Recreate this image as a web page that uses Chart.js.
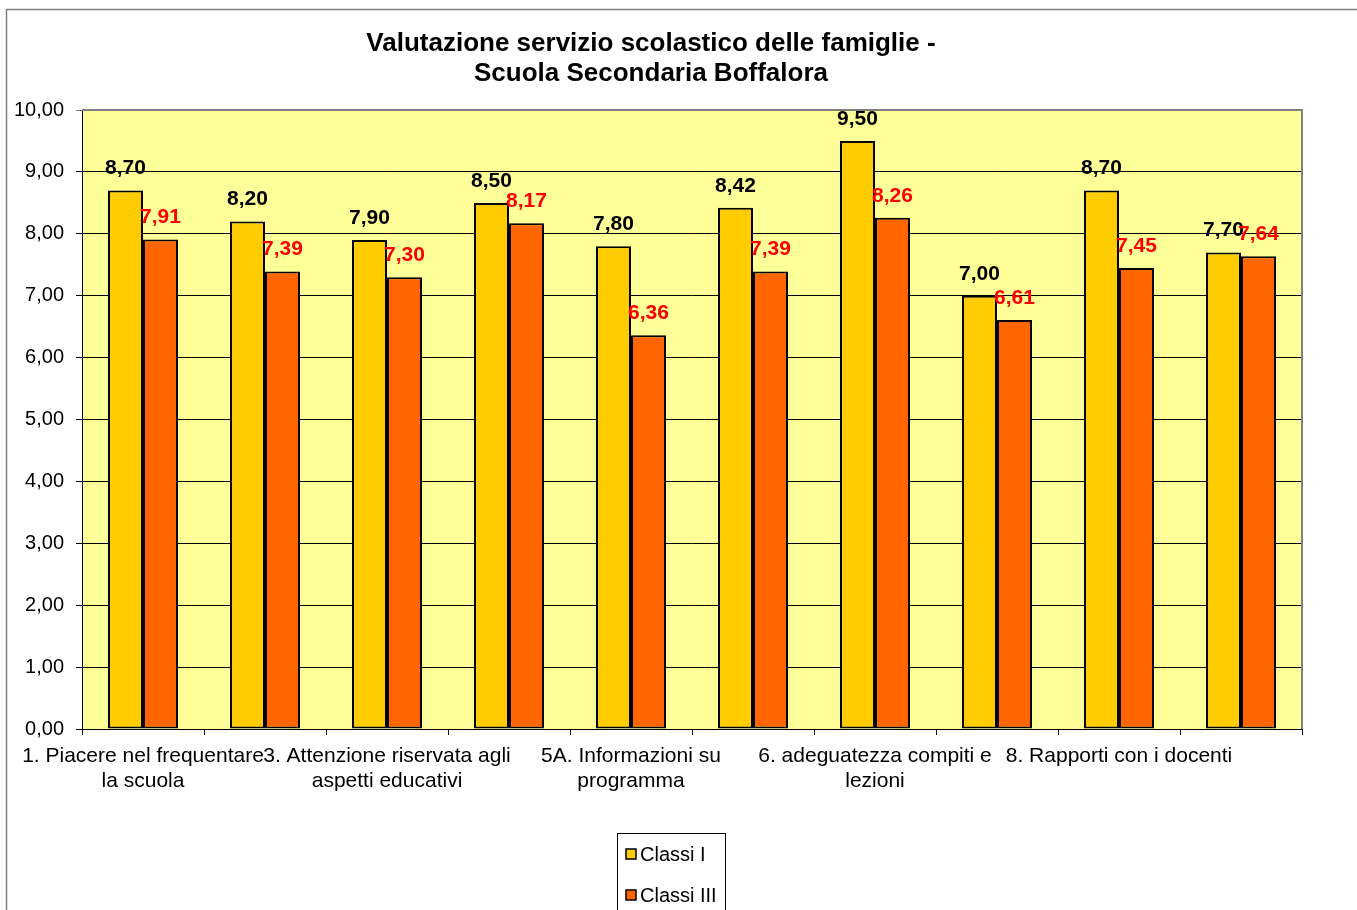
<!DOCTYPE html>
<html>
<head>
<meta charset="utf-8">
<script src="https://cdn.jsdelivr.net/npm/chart.js@4/dist/chart.umd.min.js"></script>
<style>
  html, body { margin: 0; padding: 0; background: #ffffff; }
  #wrap { width: 1357px; height: 910px; position: relative; }
</style>
</head>
<body>
<div id="wrap"><canvas id="c" width="1357" height="910"></canvas></div>
<script>
const categories = [
  ["1. Piacere nel frequentare", "la scuola"],
  ["2."],
  ["3. Attenzione riservata agli", "aspetti educativi"],
  ["4."],
  ["5A. Informazioni su", "programma"],
  ["5B."],
  ["6. adeguatezza compiti e", "lezioni"],
  ["7."],
  ["8. Rapporti con i docenti"],
  ["9."]
];
const classiI   = [8.70, 8.20, 7.90, 8.50, 7.80, 8.42, 9.50, 7.00, 8.70, 7.70];
const classiIII = [7.91, 7.39, 7.30, 8.17, 6.36, 7.39, 8.26, 6.61, 7.45, 7.64];
const seriesNames = ["Classi I", "Classi III"];
const titleLines = ["Valutazione servizio scolastico delle famiglie -", "Scuola Secondaria Boffalora"];

const FONT = "'Liberation Sans', Arial, sans-serif";
const fmt = v => v.toFixed(2).replace('.', ',');

const backgroundPlugin = {
  id: 'bg',
  beforeDraw(chart) {
    const ctx = chart.ctx, a = chart.chartArea;
    ctx.save();
    ctx.fillStyle = '#ffffff';
    ctx.fillRect(0, 0, chart.width, chart.height);
    ctx.strokeStyle = '#808080';
    ctx.lineWidth = 1.5;
    ctx.beginPath();
    ctx.moveTo(6.5, chart.height);
    ctx.lineTo(6.5, 9.5);
    ctx.lineTo(chart.width, 9.5);
    ctx.stroke();
    ctx.fillStyle = '#FFFF99';
    ctx.fillRect(a.left, a.top, a.right - a.left, a.bottom - a.top);
    ctx.restore();
  },
  afterDraw(chart) {
    const ctx = chart.ctx, a = chart.chartArea;
    ctx.save();
    ctx.strokeStyle = '#808080';
    ctx.lineWidth = 2;
    ctx.beginPath();
    ctx.moveTo(a.left, a.top);
    ctx.lineTo(a.right, a.top);
    ctx.lineTo(a.right, a.bottom);
    ctx.stroke();
    ctx.restore();
  }
};

const labelPlugin = {
  id: 'valueLabels',
  afterDatasetsDraw(chart) {
    const ctx = chart.ctx;
    ctx.save();
    ctx.font = "bold 21px " + FONT;
    ctx.textAlign = 'center';
    ctx.textBaseline = 'middle';
    chart.data.datasets.forEach((ds, di) => {
      const meta = chart.getDatasetMeta(di);
      ctx.fillStyle = di === 0 ? '#000000' : '#FF0000';
      meta.data.forEach((bar, i) => {
        ctx.fillText(fmt(ds.data[i]), bar.x, bar.y - 22);
      });
    });
    ctx.restore();
  }
};

const legendPlugin = {
  id: 'boxLegend',
  afterDraw(chart) {
    const ctx = chart.ctx;
    const x0 = 617, y0 = 833, w = 108, h = 90;
    ctx.save();
    ctx.fillStyle = '#ffffff';
    ctx.fillRect(x0, y0, w, h);
    ctx.strokeStyle = '#000000';
    ctx.lineWidth = 1;
    ctx.strokeRect(x0 + 0.5, y0 + 0.5, w, h);
    ctx.font = "20px " + FONT;
    ctx.textBaseline = 'middle';
    ctx.textAlign = 'left';
    chart.data.datasets.forEach((ds, i) => {
      const cy = y0 + 21 + i * 41;
      ctx.fillStyle = ds.backgroundColor;
      ctx.fillRect(x0 + 9, cy - 5, 10, 10);
      ctx.strokeStyle = '#000000';
      ctx.lineWidth = 1.5;
      ctx.strokeRect(x0 + 9, cy - 5, 10, 10);
      ctx.fillStyle = '#000000';
      ctx.fillText(ds.label, x0 + 23, cy + 1);
    });
    ctx.restore();
  }
};

new Chart(document.getElementById('c'), {
  type: 'bar',
  data: {
    labels: categories,
    datasets: [
      { label: seriesNames[0], data: classiI, backgroundColor: '#FFCC00', borderColor: '#000000', borderWidth: 2, borderSkipped: false },
      { label: seriesNames[1], data: classiIII, backgroundColor: '#FF6600', borderColor: '#000000', borderWidth: 2, borderSkipped: false }
    ]
  },
  options: {
    responsive: false,
    animation: false,
    devicePixelRatio: 1,
    layout: { padding: { left: 0, right: 55, top: 0, bottom: 0 } },
    datasets: { bar: { categoryPercentage: 0.574, barPercentage: 1.0 } },
    plugins: {
      legend: { display: false },
      tooltip: { enabled: false },
      title: {
        display: true,
        text: titleLines,
        color: '#000000',
        font: { family: FONT, size: 26, weight: 'bold', lineHeight: 1.155 },
        padding: { top: 29, bottom: 21 }
      }
    },
    scales: {
      x: {
        offset: true,
        grid: { display: true, offset: true, drawOnChartArea: false, drawTicks: true, tickLength: 6, color: '#000000', lineWidth: 1 },
        border: { display: true, color: '#000000', width: 1 },
        ticks: {
          autoSkip: false, maxRotation: 0, minRotation: 0, padding: 9,
          color: '#000000',
          font: { family: FONT, size: 21, lineHeight: 1.19 },
          callback: function (value, index) { return index % 2 === 0 ? this.getLabelForValue(value) : ''; }
        },
        afterFit(scale) { scale.height = 181; }
      },
      y: {
        min: 0, max: 10,
        grid: {
          color: ctx => (ctx.tick && ctx.tick.value === 10) ? '#808080' : '#000000',
          lineWidth: 1, tickLength: 6, drawTicks: true
        },
        border: { display: true, color: '#000000', width: 1 },
        ticks: {
          stepSize: 1, padding: 12, color: '#000000',
          font: { family: FONT, size: 20 },
          callback: v => fmt(v)
        },
        afterFit(scale) { scale.width = 82; }
      }
    }
  },
  plugins: [backgroundPlugin, labelPlugin, legendPlugin]
});
</script>
</body>
</html>
